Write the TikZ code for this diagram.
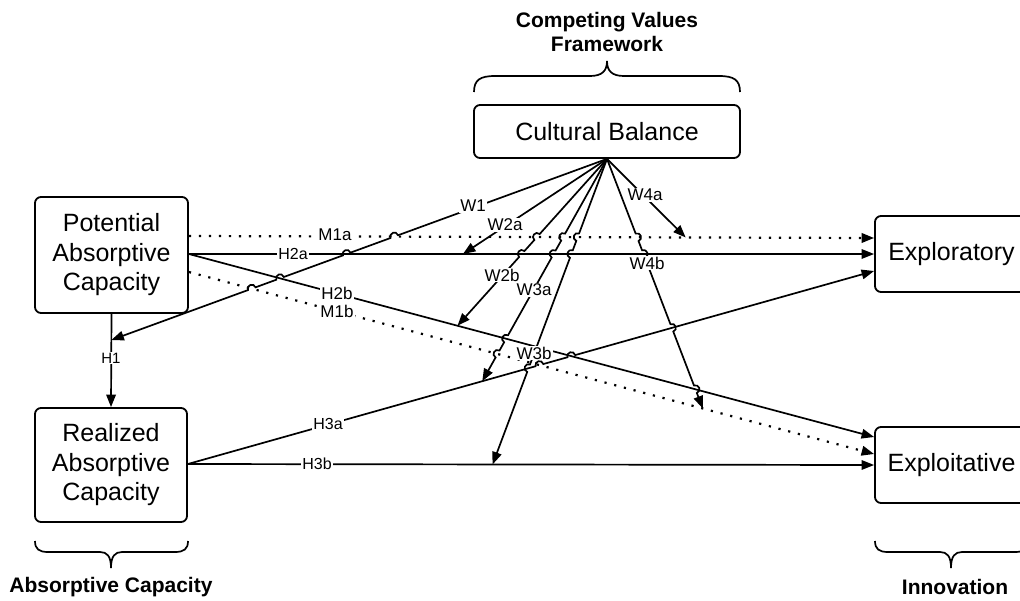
\documentclass[tikz,border=0pt]{standalone}
\usepackage{fontspec}
\setmainfont{Liberation Sans}
\usetikzlibrary{arrows.meta,calc,intersections}
\newcommand\mkhop[5]{%
  \coordinate (#1a) at ($(#1)!4pt!(#2)$);
  \coordinate (#1b) at ($(#1)!4pt!(#3)$);
  \coordinate (#1c) at ($(#1a)!1.333!#4:(#1)$);
  \coordinate (#1d) at ($(#1b)!1.333!#5:(#1)$);
}
\newcommand\hop[1]{-- (#1a) .. controls (#1c) and (#1d) .. (#1b)}
\tikzset{
  box/.style={draw, line width=1.8pt, rounded corners=6pt, fill=white, align=center,
    font=\fontsize{25}{29.5}\selectfont, inner sep=0pt},
  lbl/.style={fill=white, inner sep=1.2pt, font=\fontsize{17}{20}\selectfont},
  hlbl/.style={fill=white, inner sep=1.2pt, font=\fontsize{16}{19}\selectfont},
  link/.style={line width=1.7pt},
  arr/.style={link, -{Triangle[length=12.5pt,width=9.5pt]}},
  arrd/.style={line width=2.2pt, dash pattern=on 2.2pt off 7.8pt, -{Triangle[length=12.5pt,width=9.5pt]}},
  title/.style={font=\fontsize{21}{24}\selectfont\bfseries, align=center},
  brace/.style={line width=1.7pt},
}
\begin{document}
\begin{tikzpicture}[x=1pt,y=-1pt]
\useasboundingbox (0,0) rectangle (1020,600);
\clip (0,0) rectangle (1020,600);
\fill[white] (0,0) rectangle (1020,600);

% boxes
\node[box, minimum width=153pt, minimum height=116pt] (pac) at (111.5,255) {Potential\\Absorptive\\Capacity};
\node[box, minimum width=152pt, minimum height=114pt] (rac) at (111,465) {Realized\\Absorptive\\Capacity};
\node[box, minimum width=266pt, minimum height=53pt] (cb) at (607,131.5) {Cultural Balance};
\node[box, minimum width=153pt, minimum height=76pt] (expr) at (951.5,254) {Exploratory};
\node[box, minimum width=153pt, minimum height=76pt] (expt) at (951.5,465) {Exploitative};

% titles
\node[title] (cvf) at (607,32) {Competing Values\\Framework};
\node[title] (acl) at (111,587) {Absorptive Capacity};
\node[title] (inl) at (955,587) {Innovation};

% braces
\draw[brace] (474,92) .. controls (474,80) and (480,76) .. (495,76) -- (590,76)
  .. controls (602,76) and (607,71) .. (607,61) .. controls (607,71) and (612,76) .. (624,76)
  -- (719,76) .. controls (734,76) and (740,80) .. (740,92);
\draw[brace] (35,541) .. controls (35,549) and (39,552) .. (48,552) -- (100,552)
  .. controls (107,552) and (111,556) .. (111,568) .. controls (111,556) and (115,552) .. (122,552)
  -- (175,552) .. controls (184,552) and (188,549) .. (188,541);
\draw[brace] (875,541) .. controls (875,549) and (879,552) .. (888,552) -- (940,552)
  .. controls (947,552) and (951,556) .. (951,568) .. controls (951,556) and (955,552) .. (962,552)
  -- (1015,552) .. controls (1024,552) and (1028,549) .. (1028,541);

% end points
\coordinate (m1as) at ($(pac.east)+(0,-19)$);
\coordinate (m1ae) at ($(expr.west)+(0,-16)$);
\coordinate (h2s) at ($(pac.east)+(0,-1)$);
\coordinate (h2ae) at (expr.west);
\coordinate (h2be) at ($(expt.west)+(0,-28)$);
\coordinate (m1bs) at ($(pac.east)+(0,17)$);
\coordinate (m1be) at ($(expt.west)+(0,-11)$);
\coordinate (h3s) at ($(rac.east)+(0,-1)$);
\coordinate (h3ae) at ($(expr.west)+(0,17)$);
\coordinate (h3be) at (expt.west);
\coordinate (ap) at (cb.south);
\coordinate (w1e) at ($(pac.south)!0.28!(rac.north)$);
\coordinate (w2ae) at ($(h2s)!0.4!(h2ae)$);
\coordinate (w2be) at ($(h2s)!0.392!(h2be)$);
\coordinate (w3ae) at ($(h3s)!0.429!(h3ae)$);
\coordinate (w3be) at ($(h3s)!0.444!(h3be)$);
\coordinate (w4ae) at ($(m1as)!0.725!(m1ae)$);
\coordinate (w4be) at ($(m1bs)!0.75!(m1be)$);

% paths for crossings
\path[name path=pM1a] (m1as) -- (m1ae);
\path[name path=pH2a] (h2s) -- (h2ae);
\path[name path=pH2b] (h2s) -- (h2be);
\path[name path=pM1b] (m1bs) -- (m1be);
\path[name path=pH3a] (h3s) -- (h3ae);
\path[name path=pW1] (ap) -- (w1e);
\path[name path=pW2b] (ap) -- (w2be);
\path[name path=pW3a] (ap) -- (w3ae);
\path[name path=pW3b] (ap) -- (w3be);
\path[name path=pW4b] (ap) -- (w4be);

\path[name intersections={of=pW1 and pM1a,by=i1a}];
\path[name intersections={of=pW1 and pH2a,by=i1b}];
\path[name intersections={of=pW1 and pH2b,by=i1c}];
\path[name intersections={of=pW1 and pM1b,by=i1d}];
\path[name intersections={of=pW2b and pM1a,by=i2a}];
\path[name intersections={of=pW2b and pH2a,by=i2b}];
\path[name intersections={of=pW3a and pM1a,by=i3a}];
\path[name intersections={of=pW3a and pH2a,by=i3b}];
\path[name intersections={of=pW3a and pH2b,by=i3c}];
\path[name intersections={of=pW3a and pM1b,by=i3d}];
\path[name intersections={of=pW3b and pM1a,by=i4a}];
\path[name intersections={of=pW3b and pH2a,by=i4b}];
\path[name intersections={of=pW3b and pH3a,by=i4c}];
\path[name intersections={of=pW4b and pM1a,by=i5a}];
\path[name intersections={of=pW4b and pH2a,by=i5b}];
\path[name intersections={of=pW4b and pH3a,by=i5c}];
\path[name intersections={of=pW4b and pH2b,by=i5d}];
\path[name intersections={of=pH3a and pM1b,by=i6a}];
\path[name intersections={of=pH3a and pH2b,by=i6b}];

\mkhop{i1a}{ap}{w1e}{-90}{90}
\mkhop{i1b}{ap}{w1e}{-90}{90}
\mkhop{i1c}{ap}{w1e}{-90}{90}
\mkhop{i1d}{ap}{w1e}{-90}{90}
\mkhop{i2a}{ap}{w2be}{-90}{90}
\mkhop{i2b}{ap}{w2be}{-90}{90}
\mkhop{i3a}{ap}{w3ae}{-90}{90}
\mkhop{i3b}{ap}{w3ae}{-90}{90}
\mkhop{i3c}{ap}{w3ae}{-90}{90}
\mkhop{i3d}{ap}{w3ae}{-90}{90}
\mkhop{i4a}{ap}{w3be}{-90}{90}
\mkhop{i4b}{ap}{w3be}{-90}{90}
\mkhop{i4c}{ap}{w3be}{-90}{90}
\mkhop{i5a}{ap}{w4be}{90}{-90}
\mkhop{i5b}{ap}{w4be}{90}{-90}
\mkhop{i5c}{ap}{w4be}{90}{-90}
\mkhop{i5d}{ap}{w4be}{90}{-90}
\mkhop{i6a}{h3s}{h3ae}{90}{-90}
\mkhop{i6b}{h3s}{h3ae}{90}{-90}

% main links
\draw[arr] (pac.south) -- (rac.north);
\draw[arrd] (m1as) -- (m1ae);
\draw[arr] (h2s) -- (h2ae);
\draw[arr] (h2s) -- (h2be);
\draw[arrd] (m1bs) -- (m1be);
\draw[arr] (h3s) \hop{i6a} \hop{i6b} -- (h3ae);
\draw[arr] (h3s) -- (h3be);

% moderation links
\draw[arr] (ap) \hop{i1a} \hop{i1b} \hop{i1c} \hop{i1d} -- (w1e);
\draw[arr] (ap) -- (w2ae);
\draw[arr] (ap) \hop{i2a} \hop{i2b} -- (w2be);
\draw[arr] (ap) \hop{i3a} \hop{i3b} \hop{i3c} \hop{i3d} -- (w3ae);
\draw[arr] (ap) \hop{i4a} \hop{i4b} \hop{i4c} -- (w3be);
\draw[arr] (ap) -- (w4ae);
\draw[arr] (ap) \hop{i5a} \hop{i5b} \hop{i5c} \hop{i5d} -- (w4be);

% labels
\node[lbl] (lW1) at (473,206) {W1};
\node[lbl] (lW2a) at (505,225) {W2a};
\node[lbl] (lM1a) at (335,235) {M1a};
\node[hlbl] (lH2a) at (293,254) {H2a};
\node[lbl] (lH2b) at (337,293) {H2b};
\node[lbl] (lM1b) at (337,311) {M1b};
\node[lbl] (lW2b) at (502,275) {W2b};
\node[lbl] (lW3a) at (534,290) {W3a};
\node[lbl] (lW3b) at (534,353) {W3b};
\node[lbl] (lW4a) at (645,195) {W4a};
\node[lbl] (lW4b) at (647,263) {W4b};
\node[hlbl] (lH3a) at (328,424) {H3a};
\node[hlbl] (lH3b) at (317,464) {H3b};
\node[hlbl, font=\fontsize{15}{18}\selectfont] (lH1) at (111,358) {H1};
\end{tikzpicture}
\end{document}
